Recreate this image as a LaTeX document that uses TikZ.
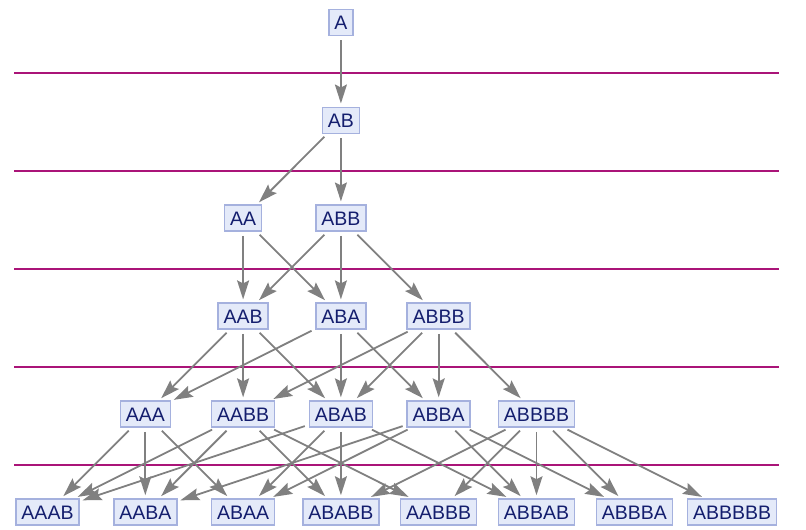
\documentclass[tikz,border=0pt]{standalone}
\usepackage{fontspec}
\setmainfont{Liberation Sans}
\usetikzlibrary{arrows.meta}
\definecolor{sepcol}{RGB}{170,20,120}
\definecolor{nfill}{RGB}{228,234,249}
\definecolor{ndraw}{RGB}{165,177,222}
\definecolor{ntext}{RGB}{20,30,110}
\definecolor{egray}{RGB}{128,128,128}
\begin{document}
\begin{tikzpicture}[x=1pt,y=-1pt,
 state/.style={draw=ndraw,fill=nfill,line width=1.5pt,text=ntext,
   font=\fontsize{19.5}{20}\selectfont,inner xsep=5.5pt,inner ysep=6pt,
   text height=14pt,text depth=0pt},
 edge/.style={draw=egray,line width=1.8pt,
   -{Stealth[length=19pt,width=12pt,inset=3pt]},shorten <=4pt,shorten >=3pt},
 sepline/.style={draw=sepcol,line width=2pt}]
\useasboundingbox (0,0) rectangle (806,530);
% separator lines
\foreach \k in {0,...,4} {
  \draw[sepline] (14,73+97.95*\k) -- (779,73+97.95*\k);
}
% nodes
\def\X#1{47.5+97.8*#1}
\node[state] (A) at (\X{3},22.3) {A};
\node[state] (AB) at (\X{3},120.25) {AB};
\node[state] (AA) at (\X{2},218.2) {AA};
\node[state] (ABB) at (\X{3},218.2) {ABB};
\node[state] (AAB) at (\X{2},316.15) {AAB};
\node[state] (ABA) at (\X{3},316.15) {ABA};
\node[state] (ABBB) at (\X{4},316.15) {ABBB};
\node[state] (AAA) at (\X{1},414.1) {AAA};
\node[state] (AABB) at (\X{2},414.1) {AABB};
\node[state] (ABAB) at (\X{3},414.1) {ABAB};
\node[state] (ABBA) at (\X{4},414.1) {ABBA};
\node[state] (ABBBB) at (\X{5},414.1) {ABBBB};
\node[state] (AAAB) at (\X{0},512) {AAAB};
\node[state] (AABA) at (\X{1},512) {AABA};
\node[state] (ABAA) at (\X{2},512) {ABAA};
\node[state] (ABABB) at (\X{3},512) {ABABB};
\node[state] (AABBB) at (\X{4},512) {AABBB};
\node[state] (ABBAB) at (\X{5},512) {ABBAB};
\node[state] (ABBBA) at (\X{6},512) {ABBBA};
\node[state] (ABBBBB) at (\X{7},512) {ABBBBB};
% edges
\foreach \s/\t in {A/AB, AB/AA, AB/ABB,
  AA/AAB, AA/ABA, ABB/AAB, ABB/ABA, ABB/ABBB,
  AAB/AAA, AAB/AABB, AAB/ABAB,
  ABA/AAA, ABA/ABAB, ABA/ABBA,
  ABBB/AABB, ABBB/ABAB, ABBB/ABBA, ABBB/ABBBB,
  AAA/AAAB, AAA/AABA, AAA/ABAA,
  AABB/AAAB, AABB/AABA, AABB/ABABB, AABB/AABBB,
  ABAB/AAAB, ABAB/ABAA, ABAB/ABABB, ABAB/ABBAB,
  ABBA/AABA, ABBA/ABAA, ABBA/ABBAB, ABBA/ABBBA,
  ABBBB/AABBB, ABBBB/ABABB, ABBBB/ABBAB, ABBBB/ABBBA, ABBBB/ABBBBB} {
  \draw[edge] (\s) -- (\t);
}
\end{tikzpicture}
\end{document}
